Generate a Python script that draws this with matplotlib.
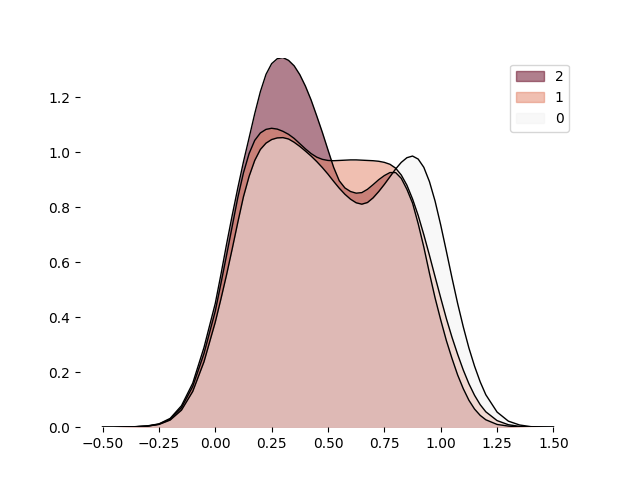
import numpy as np
import matplotlib
matplotlib.use('Agg')
import matplotlib.pyplot as plt
from matplotlib.patches import Patch

# x positions where the densities were read off the reference
# (coarse in the tails, finer where the curves bend)
x_grid = np.round(np.concatenate([
    np.arange(-0.5, 0.0001, 0.05),
    np.arange(0.025, 1.2001, 0.025),
    np.arange(1.25, 1.5001, 0.05),
]), 3)

density_2 = [0.000, 0.000, 0.001, 0.002, 0.005, 0.012, 0.032, 0.078, 0.160, 0.290,
             0.450,
             0.555, 0.665, 0.770, 0.870, 0.965, 1.052, 1.140, 1.220, 1.283, 1.322,
             1.340, 1.344, 1.334, 1.314, 1.282, 1.240, 1.190, 1.132, 1.072, 1.008,
             0.945, 0.896, 0.870, 0.857, 0.851, 0.853, 0.865, 0.882, 0.900, 0.915,
             0.926, 0.926, 0.905, 0.865, 0.815, 0.740, 0.655, 0.560, 0.470, 0.390,
             0.315, 0.250, 0.190, 0.140, 0.098, 0.066, 0.043, 0.027,
             0.010, 0.004, 0.001, 0.000, 0.000, 0.000]
density_1 = [0.000, 0.000, 0.001, 0.002, 0.004, 0.011, 0.029, 0.071, 0.148, 0.268,
             0.422,
             0.522, 0.625, 0.730, 0.835, 0.925, 0.995, 1.043, 1.070, 1.083, 1.087,
             1.084, 1.076, 1.065, 1.050, 1.031, 1.012, 0.995, 0.982, 0.974, 0.970,
             0.969, 0.970, 0.971, 0.972, 0.972, 0.971, 0.970, 0.969, 0.967, 0.963,
             0.956, 0.942, 0.917, 0.880, 0.830, 0.770, 0.700, 0.625, 0.547, 0.470,
             0.395, 0.327, 0.265, 0.208, 0.158, 0.116, 0.082, 0.056,
             0.024, 0.009, 0.003, 0.001, 0.000, 0.000]
density_0 = [0.000, 0.000, 0.001, 0.002, 0.004, 0.010, 0.026, 0.062, 0.130, 0.238,
             0.382,
             0.466, 0.554, 0.648, 0.745, 0.838, 0.912, 0.970, 1.010, 1.033, 1.046,
             1.052, 1.053, 1.048, 1.036, 1.021, 1.004, 0.986, 0.966, 0.944, 0.920,
             0.894, 0.869, 0.847, 0.829, 0.816, 0.811, 0.817, 0.834, 0.857, 0.883,
             0.911, 0.939, 0.963, 0.980, 0.986, 0.975, 0.945, 0.893, 0.822, 0.735,
             0.640, 0.543, 0.450, 0.365, 0.288, 0.222, 0.165, 0.118,
             0.055, 0.022, 0.008, 0.002, 0.001, 0.000]

labels = ['2', '1', '0']
colors = ['#63001c', '#e38165', '#f3f3f3']
curves = [density_2, density_1, density_0]

fig, ax = plt.subplots(figsize=(6.4, 4.8), dpi=100)

# fills first, outlines on top
for y, c in zip(curves, colors):
    ax.fill_between(x_grid, 0, y, color=c, alpha=0.5, linewidth=0)
for y in curves:
    ax.plot(x_grid, y, color='black', linewidth=1)

ax.set_ylim(0, max(density_2))
for s in ax.spines.values():
    s.set_visible(False)

handles = [Patch(facecolor=c, edgecolor=c, alpha=0.5) for c in colors]
ax.legend(handles, labels, loc='upper right')

plt.savefig('out.png')
